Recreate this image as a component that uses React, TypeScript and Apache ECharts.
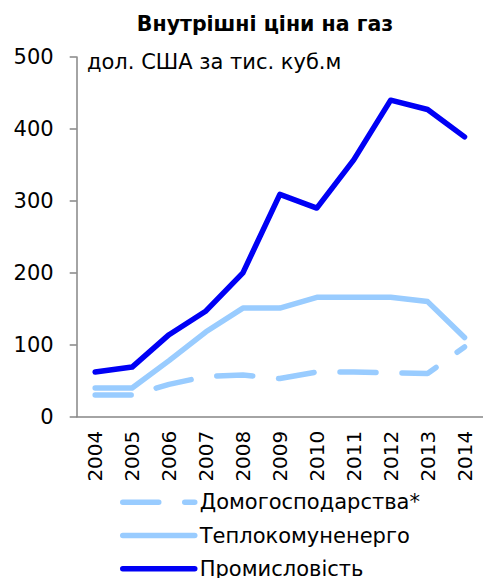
import React, { useEffect, useRef } from "react";
import * as echarts from "echarts";

const years = ["2004", "2005", "2006", "2007", "2008", "2009", "2010", "2011", "2012", "2013", "2014"];
const households = [30, 30, 45, 56, 58, 53, 62, 62, 61, 60, 97];
const heating = [40, 40, 78, 118, 151, 151, 166, 166, 166, 160, 110];
const industry = [62, 69, 114, 147, 200, 309, 290, 357, 440, 427, 389];
const seriesNames = ["Домогосподарства*", "Теплокомуненерго", "Промисловість"];
const titleText = "Внутрішні ціни на газ";
const unitText = "дол. США за тис. куб.м";

const FONT = "DejaVu Sans";
const AXIS = "#868686";
const legendTops = [491.7, 525, 558.3];

export default function App() {
  const ref = useRef<HTMLDivElement>(null);
  useEffect(() => {
    document.body.style.margin = "0";
    const chart = echarts.init(ref.current!, null, { renderer: "svg" });
    chart.setOption({
      animation: false,
      textStyle: { fontFamily: FONT },
      grid: { left: 76.7, top: 57, bottom: 161.3, width: 413.6 },
      graphic: [
        {
          type: "text",
          x: 265,
          y: 24,
          style: {
            text: titleText,
            font: `bold 20.5px "${FONT}"`,
            fill: "#000",
            textAlign: "center",
            textVerticalAlign: "middle",
          },
        },
        {
          type: "text",
          x: 87,
          y: 62,
          style: {
            text: unitText,
            font: `21px "${FONT}"`,
            fill: "#000",
            textAlign: "left",
            textVerticalAlign: "middle",
          },
        },
      ],
      legend: seriesNames.map((n, i) => ({
        orient: "vertical",
        left: 120,
        top: legendTops[i],
        padding: 0,
        itemWidth: 72,
        itemHeight: 6,
        itemGap: 0,
        data: [n],
        itemStyle: { opacity: 0 },
        lineStyle: { width: 5.5, cap: "round" },
        textStyle: { fontFamily: FONT, fontSize: 21, lineHeight: 20, color: "#000" },
      })),
      xAxis: {
        type: "category",
        data: years,
        boundaryGap: true,
        axisLine: { lineStyle: { color: AXIS, width: 1.5 } },
        axisTick: { length: 7, lineStyle: { color: AXIS, width: 1.5 } },
        axisLabel: { rotate: 90, fontSize: 20, color: "#000", margin: 14, fontFamily: FONT, interval: 0 },
        splitLine: { show: false },
      },
      yAxis: {
        type: "value",
        min: 0,
        max: 500,
        interval: 100,
        axisLine: { show: true, lineStyle: { color: AXIS, width: 1.5 } },
        axisTick: { show: true, length: 7, lineStyle: { color: AXIS, width: 1.5 } },
        axisLabel: { fontSize: 21, color: "#000", margin: 23, fontFamily: FONT },
        splitLine: { show: false },
      },
      series: [
        {
          name: seriesNames[0],
          type: "line",
          data: households,
          symbol: "none",
          lineStyle: { color: "#99CCFF", width: 5.5, type: [36, 26], cap: "round" },
          itemStyle: { color: "#99CCFF" },
          z: 2,
        },
        {
          name: seriesNames[1],
          type: "line",
          data: heating,
          symbol: "none",
          lineStyle: { color: "#99CCFF", width: 5.5, cap: "round", join: "round" },
          itemStyle: { color: "#99CCFF" },
          z: 3,
        },
        {
          name: seriesNames[2],
          type: "line",
          data: industry,
          symbol: "none",
          lineStyle: { color: "#0000F5", width: 5.5, cap: "round", join: "round" },
          itemStyle: { color: "#0000F5" },
          z: 4,
        },
      ],
    });
    return () => chart.dispose();
  }, []);
  return <div ref={ref} style={{ position: "absolute", left: 0, top: 0, width: 483, height: 578 }} />;
}
